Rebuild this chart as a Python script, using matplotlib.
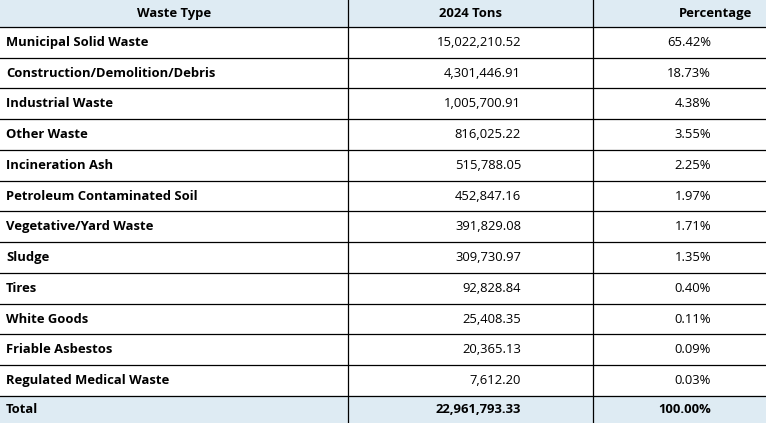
import matplotlib.pyplot as plt
from matplotlib.patches import Rectangle

headers = ["Waste Type", "2024 Tons", "Percentage"]
waste_types = ["Municipal Solid Waste", "Construction/Demolition/Debris", "Industrial Waste",
               "Other Waste", "Incineration Ash", "Petroleum Contaminated Soil",
               "Vegetative/Yard Waste", "Sludge", "Tires", "White Goods",
               "Friable Asbestos", "Regulated Medical Waste"]
tons = ["15,022,210.52", "4,301,446.91", "1,005,700.91", "816,025.22", "515,788.05",
        "452,847.16", "391,829.08", "309,730.97", "92,828.84", "25,408.35",
        "20,365.13", "7,612.20"]
percent = ["65.42%", "18.73%", "4.38%", "3.55%", "2.25%", "1.97%", "1.71%",
           "1.35%", "0.40%", "0.11%", "0.09%", "0.03%"]
total = ["Total", "22,961,793.33", "100.00%"]

plt.rcParams['font.family'] = ['Open Sans', 'DejaVu Sans']
W, H = 766, 423
fig = plt.figure(figsize=(W / 100, H / 100), dpi=100)
ax = fig.add_axes([0, 0, 1, 1])
ax.set_xlim(0, W)
ax.set_ylim(H, 0)
ax.axis('off')

col_x = [0, 348, 593, W]
head_h = 27
row_h = (396 - head_h) / len(waste_types)
blue = "#deebf3"
fs = 9.4

# header and total backgrounds
ax.add_patch(Rectangle((0, 0), W, head_h, color=blue, zorder=0))
ax.add_patch(Rectangle((0, 396), W, H - 396, color=blue, zorder=0))

rows = [headers] + [[w, t, p] for w, t, p in zip(waste_types, tons, percent)] + [total]
tops = [0] + [head_h + i * row_h for i in range(len(waste_types))] + [396]
bottoms = tops[1:] + [H]

for r, (cells, y0, y1) in enumerate(zip(rows, tops, bottoms)):
    yc = (y0 + y1) / 2
    for c, txt in enumerate(cells):
        bold = (r == 0 or c == 0 or r == len(rows) - 1)
        if r == 0:
            if c == 2:
                x, ha = W - 14, 'right'
            else:
                x, ha = (col_x[c] + col_x[c + 1]) / 2, 'center'
        elif c == 0:
            x, ha = 6, 'left'
        elif c == 1:
            x, ha = 521, 'right'
        else:
            x, ha = 711, 'right'
        ax.text(x, yc, txt, ha=ha, va='center', fontsize=fs,
                fontweight='bold' if bold else 'normal', color='black')
    if r > 0:
        ax.plot([0, W], [y0, y0], color='black', lw=0.9)

for x in col_x[1:3]:
    ax.plot([x, x], [0, H], color='black', lw=0.9)

fig.savefig("out.png", dpi=100)
